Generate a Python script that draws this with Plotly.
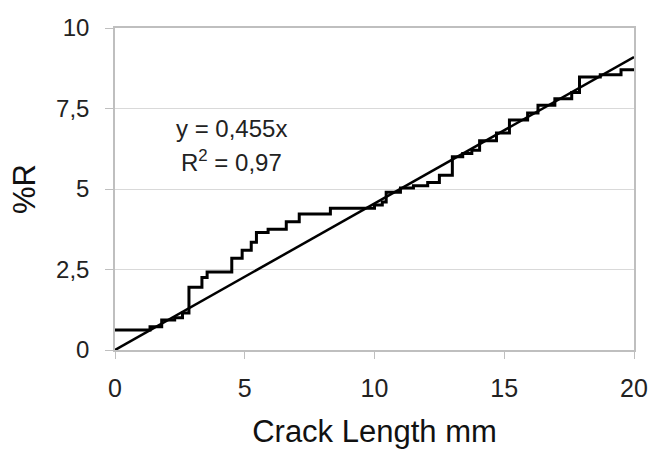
import plotly.graph_objects as go

# Step data (measured %R vs crack length)
crack_x = [0, 1.35, 1.8, 2.3, 2.6, 2.85, 3.35, 3.55, 4.5, 4.9, 5.25, 5.45, 5.9, 6.6, 7.1,
           8.3, 10.0, 10.3, 10.45, 11.0, 11.5, 12.05, 12.5, 13.0, 13.4, 13.75, 14.05,
           14.7, 15.2, 15.9, 16.3, 16.95, 17.6, 17.9, 18.7, 19.5, 20.0]
pct_r = [0.62, 0.72, 0.93, 1.0, 1.15, 1.95, 2.25, 2.42, 2.85, 3.1, 3.35, 3.65, 3.75, 3.98, 4.22,
         4.4, 4.5, 4.6, 4.9, 5.03, 5.1, 5.2, 5.43, 6.0, 6.1, 6.2, 6.5,
         6.74, 7.14, 7.36, 7.6, 7.8, 8.0, 8.48, 8.55, 8.7, 8.7]

# Linear fit y = 0.455x
fit_slope = 0.455
fit_x = [0, 20]
fit_y = [fit_slope * v for v in fit_x]

x_ticks = [0, 5, 10, 15, 20]
y_ticks = [0, 2.5, 5, 7.5, 10]
y_tick_labels = ["0", "2,5", "5", "7,5", "10"]

font_family = "Liberation Sans, Arial, sans-serif"

fig = go.Figure()
fig.add_trace(go.Scatter(x=crack_x, y=pct_r, mode="lines", line_shape="hv",
                         line=dict(color="black", width=3), showlegend=False))
fig.add_trace(go.Scatter(x=fit_x, y=fit_y, mode="lines",
                         line=dict(color="black", width=2.5), showlegend=False))

fig.add_annotation(x=4.47, y=6.89, xref="x", yref="y", text="y = 0,455x",
                   showarrow=False, font=dict(size=24, color="#222", family=font_family))
fig.add_annotation(x=4.47, y=5.88, xref="x", yref="y", text="R<sup>2</sup> = 0,97",
                   showarrow=False, font=dict(size=24, color="#222", family=font_family))

fig.update_layout(
    width=650, height=449,
    margin=dict(l=115, r=16, t=28, b=99),
    paper_bgcolor="white", plot_bgcolor="white",
    font=dict(family=font_family, color="#222"),
    xaxis=dict(range=[0, 20], tickvals=x_ticks, ticks="outside", ticklen=7,
               tickcolor="#bfbfbf", showline=True, linecolor="#bfbfbf", linewidth=1.5,
               mirror=True, showgrid=False, zeroline=False, automargin=False,
               tickfont=dict(size=25, color="#222"), ticklabelstandoff=8,
               title=dict(text="Crack Length mm", font=dict(size=31, color="#111"), standoff=20)),
    yaxis=dict(range=[0, 10], tickvals=y_ticks, ticktext=y_tick_labels, ticks="outside",
               ticklen=8, tickcolor="#bfbfbf", showline=True, linecolor="#bfbfbf", linewidth=1.5,
               mirror=True, showgrid=True, gridcolor="#d9d9d9", gridwidth=1.2, zeroline=False,
               automargin=False,
               tickfont=dict(size=24, color="#222"), ticklabelstandoff=11,
               title=dict(text="%R", font=dict(size=31, color="#111"), standoff=11)),
)

fig.write_html("out.html",
               config={"displayModeBar": False},
               post_script="document.body.style.margin='0';document.body.style.overflow='hidden';")
